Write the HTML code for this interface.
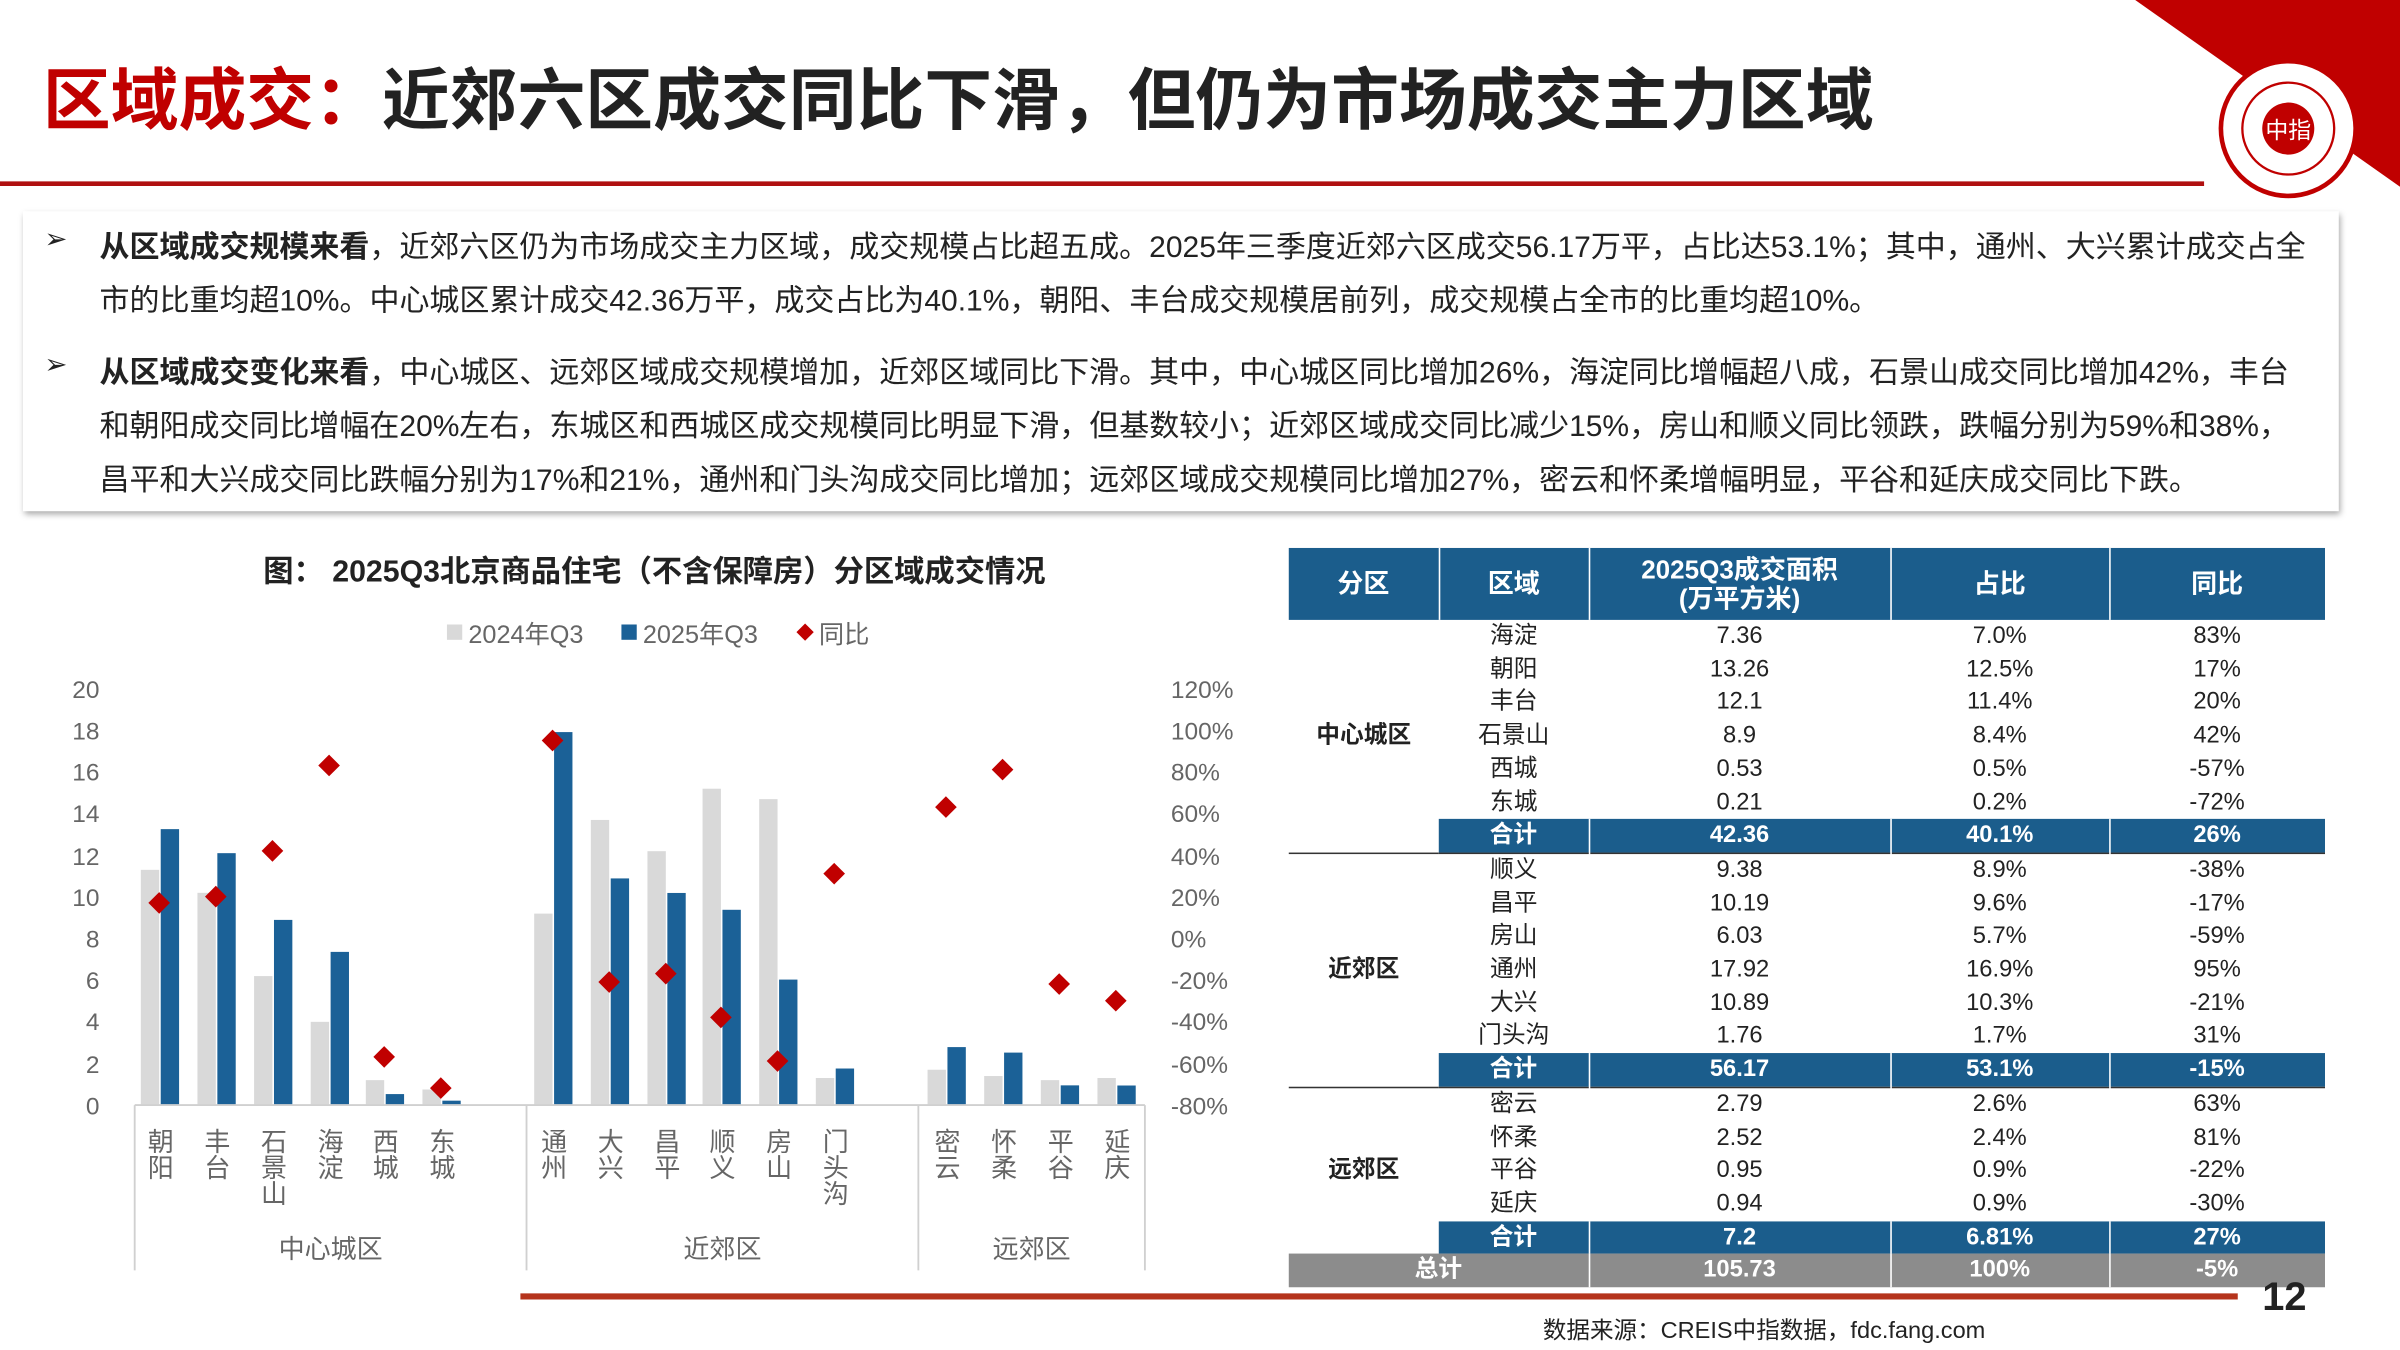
<!DOCTYPE html>
<html><head><meta charset="utf-8">
<style>
html,body{margin:0;padding:0;background:#fff;overflow:hidden}
#wrap{width:1568px;height:882px;position:relative;transform:scale(1.530612);transform-origin:0 0;font-family:"Liberation Sans","Noto Sans CJK SC",sans-serif;color:#222}
.abs{position:absolute;white-space:nowrap}
.title{left:28px;top:30px;font-size:44.3px;font-weight:bold;letter-spacing:0px}
.box{left:15px;top:138px;width:1513px;height:196px;box-shadow:1px 2px 4px rgba(0,0,0,.35);background:#fff}
.ln{position:absolute;left:50px;font-size:19.6px;white-space:nowrap}
.bul{position:absolute;left:14px;font-size:18px}
table{border-collapse:collapse;position:absolute;left:842px;top:358px;font-size:15.5px;text-align:center}
td{padding:0;height:21.7px;line-height:21.7px}
th{background:#1b5d8c;color:#fff;font-size:17px;height:45px;line-height:19px;font-weight:bold;border-right:1px solid #fff}
.sum td.s{background:#1b5d8c;color:#fff;font-weight:bold;border-right:1px solid #fff}
.tot td{background:#8c8c8c;color:#fff;font-weight:bold;border-right:1px solid #fff}
.g td{border-top:1.5px solid #333}
</style></head><body><div id="wrap">
<svg class="abs" style="left:0;top:0" width="1568" height="882">
<polygon points="1395,0 1568,0 1568,122" fill="#c00000"/>
<circle cx="1495" cy="84" r="44" fill="#fff" stroke="#c00000" stroke-width="3"/>
<circle cx="1495" cy="84" r="30" fill="none" stroke="#c00000" stroke-width="1.5"/>
<circle cx="1495" cy="84" r="17" fill="#c00000"/>
<text x="1495" y="90" font-size="15" fill="#fff" text-anchor="middle" font-family="Noto Sans CJK SC">中指</text>
<line x1="0" y1="120" x2="1440" y2="120" stroke="#b01010" stroke-width="3"/>
<line x1="340" y1="847" x2="1462" y2="847" stroke="#b5341c" stroke-width="4"/>
</svg>
<div class="abs title"><span style="color:#c00000">区域成交：</span>近郊六区成交同比下滑，但仍为市场成交主力区域</div>
<div class="abs box">
<div class="bul" style="top:8px">➢</div>
<div class="ln" style="top:7px"><b>从区域成交规模来看</b>，近郊六区仍为市场成交主力区域，成交规模占比超五成。2025年三季度近郊六区成交56.17万平，占比达53.1%；其中，通州、大兴累计成交占全</div>
<div class="ln" style="top:42px">市的比重均超10%。中心城区累计成交42.36万平，成交占比为40.1%，朝阳、丰台成交规模居前列，成交规模占全市的比重均超10%。</div>
<div class="bul" style="top:90px">➢</div>
<div class="ln" style="top:89px"><b>从区域成交变化来看</b>，中心城区、远郊区域成交规模增加，近郊区域同比下滑。其中，中心城区同比增加26%，海淀同比增幅超八成，石景山成交同比增加42%，丰台</div>
<div class="ln" style="top:124px">和朝阳成交同比增幅在20%左右，东城区和西城区成交规模同比明显下滑，但基数较小；近郊区域成交同比减少15%，房山和顺义同比领跌，跌幅分别为59%和38%，</div>
<div class="ln" style="top:159px">昌平和大兴成交同比跌幅分别为17%和21%，通州和门头沟成交同比增加；远郊区域成交规模同比增加27%，密云和怀柔增幅明显，平谷和延庆成交同比下跌。</div>
</div>
<div class="abs" style="left:172px;top:357px;font-size:19.8px;font-weight:bold">图：&nbsp;2025Q3北京商品住宅（不含保障房）分区域成交情况</div>
<svg class="abs" style="left:0;top:0" width="840" height="882" font-family="Liberation Sans,Noto Sans CJK SC,sans-serif">
<g font-size="16.5" fill="#666">
<rect x="292" y="408" width="10" height="10" fill="#d9d9d9"/><text x="306" y="420">2024年Q3</text>
<rect x="406" y="408" width="10" height="10" fill="#1b6197"/><text x="420" y="420">2025年Q3</text>
<rect x="522" y="409" width="8" height="8" fill="#c00000" transform="rotate(45 526 413)"/><text x="535" y="420">同比</text>
</g>
<g font-size="16" fill="#666" text-anchor="end">
<text x="65" y="456">20</text><text x="65" y="483">18</text><text x="65" y="510">16</text><text x="65" y="537">14</text><text x="65" y="565">12</text><text x="65" y="592">10</text><text x="65" y="619">8</text><text x="65" y="646">6</text><text x="65" y="673">4</text><text x="65" y="701">2</text><text x="65" y="728">0</text>
</g>
<g font-size="16" fill="#666">
<text x="765" y="456">120%</text><text x="765" y="483">100%</text><text x="765" y="510">80%</text><text x="765" y="537">60%</text><text x="765" y="565">40%</text><text x="765" y="592">20%</text><text x="765" y="619">0%</text><text x="765" y="646">-20%</text><text x="765" y="673">-40%</text><text x="765" y="701">-60%</text><text x="765" y="728">-80%</text>
</g>
<g fill="#d9d9d9">
<rect x="92" y="568.3" width="12" height="153.7"/><rect x="129" y="583.3" width="12" height="138.7"/><rect x="166" y="637.7" width="12" height="84.3"/><rect x="203" y="667.6" width="12" height="54.4"/><rect x="239" y="705.7" width="12" height="16.3"/><rect x="276" y="711.8" width="12" height="10.2"/>
<rect x="349" y="596.9" width="12" height="125.1"/><rect x="386" y="535.7" width="12" height="186.3"/><rect x="423" y="556.1" width="12" height="165.9"/><rect x="459" y="515.3" width="12" height="206.7"/><rect x="496" y="522.1" width="12" height="199.9"/><rect x="533" y="704.3" width="12" height="17.7"/>
<rect x="606" y="698.9" width="12" height="23.1"/><rect x="643" y="703" width="12" height="19"/><rect x="680" y="705.7" width="12" height="16.3"/><rect x="717" y="704.3" width="12" height="17.7"/>
</g>
<g fill="#1b6197">
<rect x="105" y="541.7" width="12" height="180.3"/><rect x="142" y="557.4" width="12" height="164.6"/><rect x="179" y="601" width="12" height="121"/><rect x="216" y="621.9" width="12" height="100.1"/><rect x="252" y="714.8" width="12" height="7.2"/><rect x="289" y="719.1" width="12" height="2.9"/>
<rect x="362" y="478.3" width="12" height="243.7"/><rect x="399" y="573.9" width="12" height="148.1"/><rect x="436" y="583.4" width="12" height="138.6"/><rect x="472" y="594.4" width="12" height="127.6"/><rect x="509" y="640" width="12" height="82"/><rect x="546" y="698.1" width="12" height="23.9"/>
<rect x="619" y="684.1" width="12" height="37.9"/><rect x="656" y="687.7" width="12" height="34.3"/><rect x="693" y="709.1" width="12" height="12.9"/><rect x="730" y="709.2" width="12" height="12.8"/>
</g>
<g fill="#c00000">
<rect x="99" y="584.9" width="10" height="10" transform="rotate(45 104 589.9)"/>
<rect x="136" y="580.8" width="10" height="10" transform="rotate(45 141 585.8)"/>
<rect x="173" y="550.9" width="10" height="10" transform="rotate(45 178 555.9)"/>
<rect x="210" y="495.1" width="10" height="10" transform="rotate(45 215 500.1)"/>
<rect x="246" y="685.5" width="10" height="10" transform="rotate(45 251 690.5)"/>
<rect x="283" y="705.9" width="10" height="10" transform="rotate(45 288 710.9)"/>
<rect x="356" y="478.8" width="10" height="10" transform="rotate(45 361 483.8)"/>
<rect x="393" y="636.6" width="10" height="10" transform="rotate(45 398 641.6)"/>
<rect x="430" y="631.1" width="10" height="10" transform="rotate(45 435 636.1)"/>
<rect x="466" y="659.7" width="10" height="10" transform="rotate(45 471 664.7)"/>
<rect x="503" y="688.2" width="10" height="10" transform="rotate(45 508 693.2)"/>
<rect x="540" y="565.8" width="10" height="10" transform="rotate(45 545 570.8)"/>
<rect x="613" y="522.3" width="10" height="10" transform="rotate(45 618 527.3)"/>
<rect x="650" y="497.8" width="10" height="10" transform="rotate(45 655 502.8)"/>
<rect x="687" y="637.9" width="10" height="10" transform="rotate(45 692 642.9)"/>
<rect x="724" y="648.8" width="10" height="10" transform="rotate(45 729 653.8)"/>
</g>
<g stroke="#d0d0d0" stroke-width="1.2">
<line x1="88" y1="722" x2="748" y2="722"/>
<line x1="88" y1="722" x2="88" y2="830"/><line x1="344" y1="722" x2="344" y2="830"/><line x1="600" y1="722" x2="600" y2="830"/><line x1="748" y1="722" x2="748" y2="830"/>
</g>
<g font-size="17" fill="#666" text-anchor="middle">
<text x="105" y="752">朝</text><text x="105" y="769">阳</text>
<text x="142" y="752">丰</text><text x="142" y="769">台</text>
<text x="179" y="752">石</text><text x="179" y="769">景</text><text x="179" y="786">山</text>
<text x="216" y="752">海</text><text x="216" y="769">淀</text>
<text x="252" y="752">西</text><text x="252" y="769">城</text>
<text x="289" y="752">东</text><text x="289" y="769">城</text>
<text x="362" y="752">通</text><text x="362" y="769">州</text>
<text x="399" y="752">大</text><text x="399" y="769">兴</text>
<text x="436" y="752">昌</text><text x="436" y="769">平</text>
<text x="472" y="752">顺</text><text x="472" y="769">义</text>
<text x="509" y="752">房</text><text x="509" y="769">山</text>
<text x="546" y="752">门</text><text x="546" y="769">头</text><text x="546" y="786">沟</text>
<text x="619" y="752">密</text><text x="619" y="769">云</text>
<text x="656" y="752">怀</text><text x="656" y="769">柔</text>
<text x="693" y="752">平</text><text x="693" y="769">谷</text>
<text x="730" y="752">延</text><text x="730" y="769">庆</text>
<text x="216" y="822">中心城区</text><text x="472" y="822">近郊区</text><text x="674" y="822">远郊区</text>
</g>
</svg>
<table>
<colgroup><col style="width:98px"><col style="width:98px"><col style="width:197px"><col style="width:143px"><col style="width:141px"></colgroup>
<tr><th>分区</th><th>区域</th><th>2025Q3成交面积<br>(万平方米)</th><th>占比</th><th>同比</th></tr>
<tr><td rowspan="7" style="font-weight:bold">中心城区</td><td>海淀</td><td>7.36</td><td>7.0%</td><td>83%</td></tr>
<tr><td>朝阳</td><td>13.26</td><td>12.5%</td><td>17%</td></tr>
<tr><td>丰台</td><td>12.1</td><td>11.4%</td><td>20%</td></tr>
<tr><td>石景山</td><td>8.9</td><td>8.4%</td><td>42%</td></tr>
<tr><td>西城</td><td>0.53</td><td>0.5%</td><td>-57%</td></tr>
<tr><td>东城</td><td>0.21</td><td>0.2%</td><td>-72%</td></tr>
<tr class="sum"><td class="s">合计</td><td class="s">42.36</td><td class="s">40.1%</td><td class="s">26%</td></tr>
<tr class="g"><td rowspan="7" style="font-weight:bold">近郊区</td><td>顺义</td><td>9.38</td><td>8.9%</td><td>-38%</td></tr>
<tr><td>昌平</td><td>10.19</td><td>9.6%</td><td>-17%</td></tr>
<tr><td>房山</td><td>6.03</td><td>5.7%</td><td>-59%</td></tr>
<tr><td>通州</td><td>17.92</td><td>16.9%</td><td>95%</td></tr>
<tr><td>大兴</td><td>10.89</td><td>10.3%</td><td>-21%</td></tr>
<tr><td>门头沟</td><td>1.76</td><td>1.7%</td><td>31%</td></tr>
<tr class="sum"><td class="s">合计</td><td class="s">56.17</td><td class="s">53.1%</td><td class="s">-15%</td></tr>
<tr class="g"><td rowspan="5" style="font-weight:bold">远郊区</td><td>密云</td><td>2.79</td><td>2.6%</td><td>63%</td></tr>
<tr><td>怀柔</td><td>2.52</td><td>2.4%</td><td>81%</td></tr>
<tr><td>平谷</td><td>0.95</td><td>0.9%</td><td>-22%</td></tr>
<tr><td>延庆</td><td>0.94</td><td>0.9%</td><td>-30%</td></tr>
<tr class="sum"><td class="s">合计</td><td class="s">7.2</td><td class="s">6.81%</td><td class="s">27%</td></tr>
<tr class="tot"><td colspan="2">总计</td><td>105.73</td><td>100%</td><td>-5%</td></tr>
</table>
<div class="abs" style="left:1478px;top:832px;font-size:26px;font-weight:bold">12</div>
<div class="abs" style="left:1008px;top:857px;font-size:15.4px;color:#222">数据来源：CREIS中指数据，fdc.fang.com</div>
</div></body></html>
